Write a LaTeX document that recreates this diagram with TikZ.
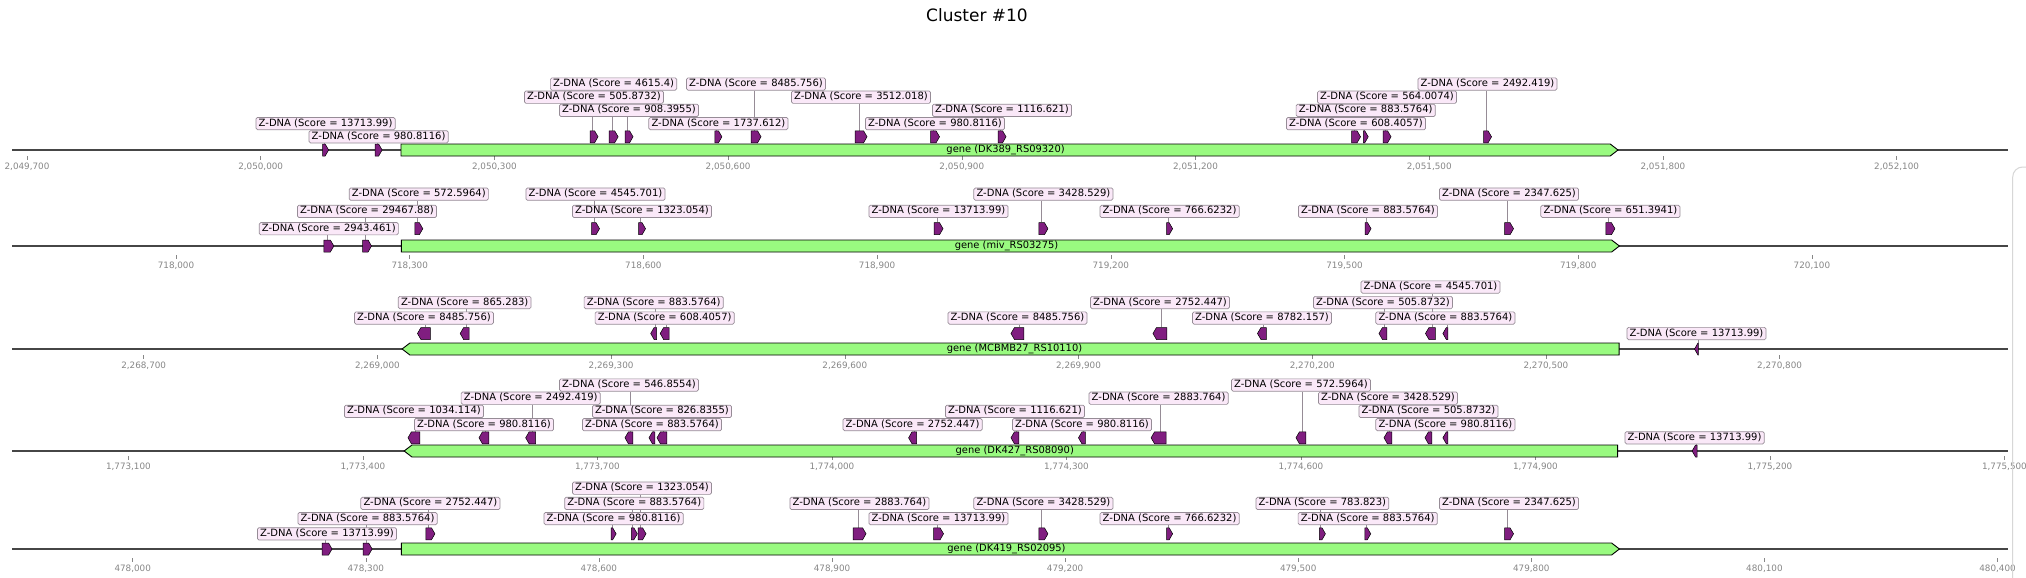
\documentclass[tikz,border=0pt]{standalone}
\usepackage{fontspec}
\setmainfont{DejaVu Sans}
\usetikzlibrary{shapes.symbols,backgrounds}
\definecolor{zfill}{RGB}{250,232,248}
\definecolor{zedge}{RGB}{150,140,150}
\definecolor{zdnac}{RGB}{128,30,128}
\definecolor{genec}{RGB}{153,250,128}
\definecolor{axisc}{RGB}{70,70,70}
\definecolor{tickc}{RGB}{135,135,135}

\begin{document}
\begin{tikzpicture}[x=1pt, y=-1pt,
  zdna/.style={draw=black, line width=0.5pt, fill=zdnac, shape=signal, signal pointer angle=120,
    minimum height=12pt, inner sep=0pt},
  fwd/.style={signal to=east, xshift=-1.7pt},
  rev/.style={signal to=west, xshift=1.7pt},
  gene/.style={draw=black, line width=0.9pt, fill=genec, shape=signal, signal pointer angle=75,
    minimum height=12pt, inner sep=0pt, font=\fontsize{9.9}{10}\selectfont},
  zlab/.style={draw=zedge, fill=zfill, line width=0.7pt, rounded corners=1.5pt, inner xsep=2.7pt,
    inner ysep=0pt, text height=7.4pt, text depth=2.3pt, minimum height=12.3pt,
    font=\fontsize{10}{10}\selectfont},
  lead/.style={draw=zedge, line width=0.6pt},
  baseline/.style={draw=axisc, line width=1.8pt},
  tickmark/.style={draw=tickc, line width=0.6pt},
  ticklab/.style={text=tickc, inner sep=0pt, font=\fontsize{8.8}{9}\selectfont}
]
\begin{scope}[on background layer]
  \fill[white] (0,0) rectangle (2026,578);
\end{scope}
\useasboundingbox (0,0) rectangle (2026,578);

\node[font=\fontsize{17}{20}\selectfont] (title) at (977,15) {Cluster \#10};

% track 1
\coordinate (a-w) at (12,150);
\coordinate (a-e) at (2008,150);
\draw[baseline] (a-w) -- (a-e);
\foreach \t [count=\k from 0] in {{2,049,700},{2,050,000},{2,050,300},{2,050,600},{2,050,900},{2,051,200},{2,051,500},{2,051,800},{2,052,100}}{
  \draw[tickmark] ({27+233.7*\k},156) -- ++(0,3.5);
  \node[ticklab] (xa\k) at ({27+233.7*\k},167) {\t};
}
\node[gene, signal to=east, minimum width=1217pt] (ga) at (1005.6,150) {gene (DK389\_RS09320)};
\foreach \x/\w/\lv/\score/\ll [count=\i] in {325.6/6/0/13713.99/2, 378.6/7/0/980.8116/1,
  594/8/1/505.8732/4, 613.6/9/1/4615.4/5, 629/8/1/908.3955/3, 718.4/7/1/1737.612/2,
  756/10/1/8485.756/5, 861/12/1/3512.018/4, 935/9/1/980.8116/2, 1002/8/1/1116.621/3,
  1356/9/1/608.4057/2, 1365.7/5/1/883.5764/3, 1387/8/1/564.0074/4, 1487.5/8/1/2492.419/5}{
  \node[zdna, fwd, minimum width=\w pt] (a\i) at (\x,{150-13.2*\lv}) {};
  \node[zlab] (la\i) at (\x,{150-13.2*\ll}) {Z-DNA (Score = \score)};
  \begin{scope}[on background layer]
    \draw[lead] (a\i.north) -- (a\i.north |- la\i.south);
  \end{scope}
}

% track 2
\coordinate (b-w) at (12,246);
\coordinate (b-e) at (2008,246);
\draw[baseline] (b-w) -- (b-e);
\foreach \t [count=\k from 0] in {{718,000},{718,300},{718,600},{718,900},{719,200},{719,500},{719,800},{720,100}}{
  \draw[tickmark] ({176+233.7*\k},255) -- ++(0,3.5);
  \node[ticklab] (xb\k) at ({176+233.7*\k},266) {\t};
}
\node[gene, signal to=east, minimum width=1218pt] (gb) at (1006.5,246) {gene (miv\_RS03275)};
\foreach \x/\w/\lv/\score/\ll [count=\i] in {328.8/10/0/2943.461/1, 367/9/0/29467.88/2,
  418.8/8/1/572.5964/3, 595.5/8/1/4545.701/3, 642/7/1/1323.054/2, 938.5/9/1/13713.99/2,
  1043.4/9/1/3428.529/3, 1169.6/6/1/766.6232/2, 1368/6/1/883.5764/2, 1509/9/1/2347.625/3,
  1610.4/9/1/651.3941/2}{
  \node[zdna, fwd, minimum width=\w pt] (b\i) at (\x,{246-17.3*\lv}) {};
  \node[zlab] (lb\i) at (\x,{246-17.3*\ll}) {Z-DNA (Score = \score)};
  \begin{scope}[on background layer]
    \draw[lead] (b\i.north) -- (b\i.north |- lb\i.south);
  \end{scope}
}

% track 3
\coordinate (c-w) at (12,349);
\coordinate (c-e) at (2008,349);
\draw[baseline] (c-w) -- (c-e);
\foreach \t [count=\k from 0] in {{2,268,700},{2,269,000},{2,269,300},{2,269,600},{2,269,900},{2,270,200},{2,270,500},{2,270,800}}{
  \draw[tickmark] ({143.7+233.7*\k},355) -- ++(0,3.5);
  \node[ticklab] (xc\k) at ({143.7+233.7*\k},366) {\t};
}
\node[gene, signal to=west, minimum width=1217pt] (gc) at (1014.5,349) {gene (MCBMB27\_RS10110)};
\foreach \x/\w/\lv/\score/\ll [count=\i] in {424/13/1/8485.756/2, 464.7/9/1/865.283/3,
  653.7/6/1/883.5764/3, 664.7/9/1/608.4057/2, 1017.5/13/1/8485.756/2, 1160/14/1/2752.447/3,
  1262/9/1/8782.157/2, 1383/8/1/505.8732/3, 1430.5/10/1/4545.701/4, 1445.4/5/1/883.5764/2,
  1696.5/4/0/13713.99/1}{
  \node[zdna, rev, minimum width=\w pt] (c\i) at (\x,{349-15.5*\lv}) {};
  \node[zlab] (lc\i) at (\x,{349-15.5*\ll}) {Z-DNA (Score = \score)};
  \begin{scope}[on background layer]
    \draw[lead] (c\i.north) -- (c\i.north |- lc\i.south);
  \end{scope}
}

% track 4
\coordinate (d-w) at (12,451);
\coordinate (d-e) at (2008,451);
\draw[baseline] (d-w) -- (d-e);
\foreach \t [count=\k from 0] in {{1,773,100},{1,773,400},{1,773,700},{1,774,000},{1,774,300},{1,774,600},{1,774,900},{1,775,200},{1,775,500}}{
  \draw[tickmark] ({128.4+234.5*\k},456) -- ++(0,3.5);
  \node[ticklab] (xd\k) at ({128.4+234.5*\k},467) {\t};
}
\node[gene, signal to=west, minimum width=1213.5pt] (gd) at (1014.8,451) {gene (DK427\_RS08090)};
\foreach \x/\w/\lv/\score/\ll [count=\i] in {414/12/1/1034.114/3, 484/10/1/980.8116/2,
  530.7/10/1/2492.419/4, 629/8/1/546.8554/5, 652/6/1/883.5764/2, 662/10/1/826.8355/3,
  912.6/8/1/2752.447/2, 1015/8/1/1116.621/3, 1082/7/1/980.8116/2, 1158.6/15/1/2883.764/4,
  1301/10/1/572.5964/5, 1388/8/1/3428.529/4, 1428.5/7/1/505.8732/3, 1445.4/5/1/980.8116/2,
  1694.6/5/0/13713.99/1}{
  \node[zdna, rev, minimum width=\w pt] (d\i) at (\x,{451-13.2*\lv}) {};
  \node[zlab] (ld\i) at (\x,{451-13.2*\ll}) {Z-DNA (Score = \score)};
  \begin{scope}[on background layer]
    \draw[lead] (d\i.north) -- (d\i.north |- ld\i.south);
  \end{scope}
}

% track 5
\coordinate (e-w) at (12,549);
\coordinate (e-e) at (2008,549);
\draw[baseline] (e-w) -- (e-e);
\foreach \t [count=\k from 0] in {{478,000},{478,300},{478,600},{478,900},{479,200},{479,500},{479,800},{480,100},{480,400}}{
  \draw[tickmark] ({132.7+233.1*\k},558) -- ++(0,3.5);
  \node[ticklab] (xe\k) at ({132.7+233.1*\k},569) {\t};
}
\node[gene, signal to=east, minimum width=1218pt] (ge) at (1006.5,549) {gene (DK419\_RS02095)};
\foreach \x/\w/\lv/\score/\ll [count=\i] in {327/10/0/13713.99/1, 367.6/9/0/883.5764/2,
  430.4/9/1/2752.447/3, 613.6/5/1/980.8116/2, 634.3/6/1/883.5764/3, 642/8/1/1323.054/4,
  859.5/13/1/2883.764/3, 938.5/10/1/13713.99/2, 1043.4/9/1/3428.529/3, 1169.6/6/1/766.6232/2,
  1322.4/6/1/783.823/3, 1367.7/6/1/883.5764/2, 1509/9/1/2347.625/3}{
  \node[zdna, fwd, minimum width=\w pt] (e\i) at (\x,{549-15.2*\lv}) {};
  \node[zlab] (le\i) at (\x,{549-15.2*\ll}) {Z-DNA (Score = \score)};
  \begin{scope}[on background layer]
    \draw[lead] (e\i.north) -- (e\i.north |- le\i.south);
  \end{scope}
}

% frame edge on the right
\draw[draw={rgb,255:red,215;green,215;blue,215}, line width=1pt, rounded corners=10pt]
  (2030,167) -- (2012.7,167) -- (2012.7,580);
\end{tikzpicture}
\end{document}
